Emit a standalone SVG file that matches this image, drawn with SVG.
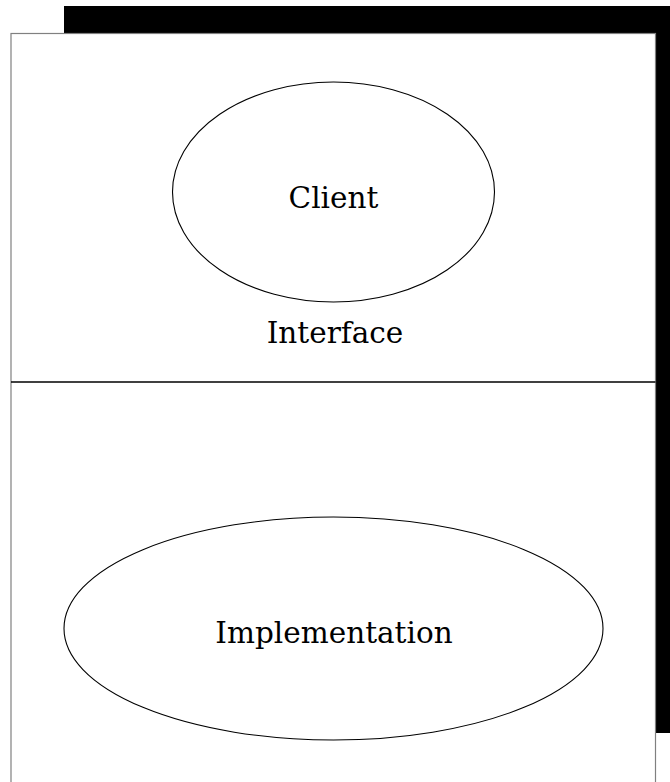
<svg xmlns="http://www.w3.org/2000/svg" width="670" height="782" viewBox="0 0 670 782">
<style>
.lbl{font-family:"DejaVu Serif","Liberation Serif",serif;font-size:29.5px;fill:#000;text-anchor:middle}
.ell{fill:#fff;stroke:#000;stroke-width:1.1}
</style>
<rect width="670" height="782" fill="#fff"/>
<g id="frame">
<rect x="64" y="6" width="620" height="727" fill="#000"/>
<rect x="11" y="33.5" width="644.5" height="760" fill="#fff" stroke="#808080" stroke-width="1.2"/>
</g>
<g id="connectors">
<line x1="11" y1="382" x2="655.5" y2="382" stroke="#000" stroke-width="1.6"/>
</g>
<g id="client">
<ellipse class="ell" cx="333.5" cy="192" rx="161" ry="110"/>
<text class="lbl" x="333.5" y="208">Client</text>
</g>
<g id="interface">
<text class="lbl" x="335" y="343">Interface</text>
</g>
<g id="implementation">
<ellipse class="ell" cx="333.5" cy="628.5" rx="269.5" ry="111.5"/>
<text class="lbl" x="334" y="643">Implementation</text>
</g>
</svg>
